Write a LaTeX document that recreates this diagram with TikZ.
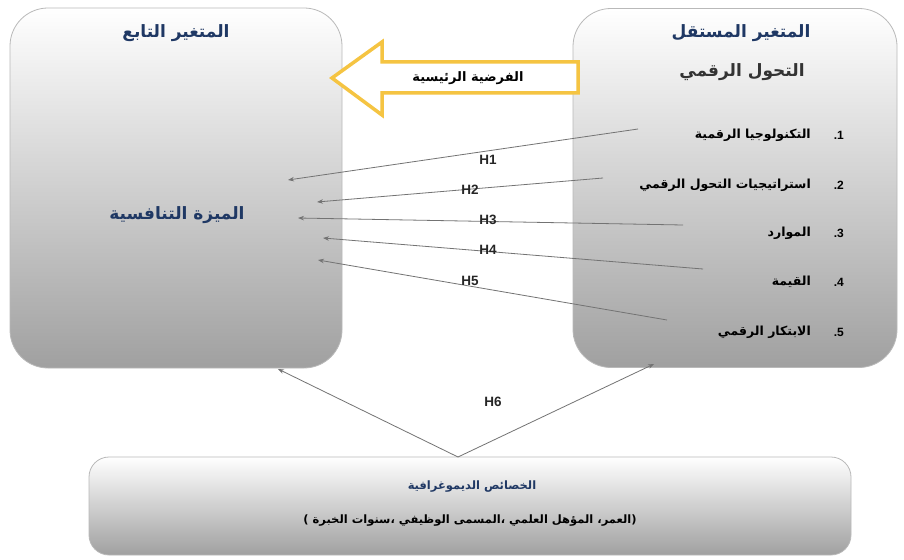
\documentclass[tikz,border=0pt]{standalone}
\usepackage{fontspec}
\newfontfamily\arabicfont[Script=Arabic]{DejaVu Sans}
\newfontfamily\latinfont{Liberation Sans}
\TeXXeTstate=1
\usetikzlibrary{arrows.meta}
\definecolor{titleblue}{RGB}{31,56,100}
\definecolor{boxbottom}{RGB}{160,160,160}
\definecolor{boxmid}{RGB}{222,222,222}
\definecolor{framegray}{RGB}{185,185,185}
\definecolor{arrowgray}{RGB}{115,115,115}
\definecolor{hyyellow}{RGB}{245,196,66}
\tikzset{
  varbox/.style={draw=framegray, line width=0.8pt, rounded corners=38pt,
    top color=white, middle color=boxmid, bottom color=boxbottom, inner sep=0pt},
  titletext/.style={font=\arabicfont\bfseries\fontsize{17}{19}\selectfont, text=titleblue, inner sep=1pt},
  itemtext/.style={font=\arabicfont\bfseries\fontsize{12.5}{14}\selectfont, text=black, anchor=east, inner sep=1pt},
  numtext/.style={font=\latinfont\bfseries\fontsize{12}{14}\selectfont, text=black, anchor=east, inner sep=1pt},
  hlabel/.style={font=\latinfont\bfseries\fontsize{13.5}{15}\selectfont, text=black!85, inner sep=1pt},
  hyparrow/.style={draw=arrowgray, line width=0.8pt, -{Stealth[length=6pt,width=4.5pt]}},
}
\begin{document}
\begin{tikzpicture}[x=1pt,y=-1pt]
\useasboundingbox[fill=white] (0,0) rectangle (904,559);

% boxes
\node[varbox, minimum width=332pt, minimum height=360pt] (dep) at (176,188) {};
\node[varbox, minimum width=324pt, minimum height=359pt] (ind) at (735,188) {};
\node[varbox, rounded corners=20pt, minimum width=762pt, minimum height=98pt] (demo) at (470,506) {};

% main hypothesis arrow
\draw[hyyellow, line width=3.5pt, fill=white, line join=miter]
  (332,78) -- (382,42) -- (382,62) -- (578,62) -- (578,93) -- (382,93) -- (382,115) -- cycle;
\node[itemtext, anchor=center, font=\arabicfont\bfseries\fontsize{13}{15}\selectfont] (mainhyp) at (468,78) {\beginR الفرضية الرئيسية\endR};

% titles
\node[titletext] (depT) at (176,33) {\beginR المتغير التابع\endR};
\node[titletext] (depV) at (177,215) {\beginR الميزة التنافسية\endR};
\node[titletext] (indT) at (741,33) {\beginR المتغير المستقل\endR};
\node[titletext, text=black!80] (indV) at (742,72) {\beginR التحول الرقمي\endR};

% items
\node[numtext] (n1) at (845,135) {.1};
\node[numtext] (n2) at (845,185) {.2};
\node[numtext] (n3) at (845,233) {.3};
\node[numtext] (n4) at (845,282) {.4};
\node[numtext] (n5) at (845,332) {.5};
\node[itemtext] (it1) at (812,135) {\beginR التكنولوجيا الرقمية\endR};
\node[itemtext] (it2) at (812,185) {\beginR استراتيجيات التحول الرقمي\endR};
\node[itemtext] (it3) at (812,233) {\beginR الموارد\endR};
\node[itemtext] (it4) at (812,282) {\beginR القيمة\endR};
\node[itemtext] (it5) at (812,332) {\beginR الابتكار الرقمي\endR};

% demographic box text
\node[titletext, font=\arabicfont\bfseries\fontsize{11.5}{13}\selectfont] (demoT) at (472,487) {\beginR الخصائص الديموغرافية\endR};
\node[titletext, text=black, font=\arabicfont\bfseries\fontsize{11.5}{13}\selectfont] (demoL) at (470,521)
  {\beginR (العمر، المؤهل العلمي ،المسمى الوظيفي ،سنوات الخبرة )\endR};

% arrow end coordinates
\coordinate (s1) at (638,129); \coordinate (e1) at (288,180);
\coordinate (s2) at (603,178); \coordinate (e2) at (317,202);
\coordinate (s3) at (683,225); \coordinate (e3) at (298,218);
\coordinate (s4) at (703,269); \coordinate (e4) at (323,238);
\coordinate (s5) at (667,320); \coordinate (e5) at (318,260);
\coordinate (s6) at (458,457); \coordinate (e6a) at (278,369); \coordinate (e6b) at (654,364);

\draw[hyparrow] (s1) -- (e1);
\draw[hyparrow] (s2) -- (e2);
\draw[hyparrow] (s3) -- (e3);
\draw[hyparrow] (s4) -- (e4);
\draw[hyparrow] (s5) -- (e5);
\draw[hyparrow] (s6) -- (e6a);
\draw[hyparrow] (s6) -- (e6b);

\node[hlabel] (h1) at (488,160) {H1};
\node[hlabel] (h2) at (470,190) {H2};
\node[hlabel] (h3) at (488,220) {H3};
\node[hlabel] (h4) at (488,250) {H4};
\node[hlabel] (h5) at (470,281) {H5};
\node[hlabel] (h6) at (493,402) {H6};
\end{tikzpicture}
\end{document}
